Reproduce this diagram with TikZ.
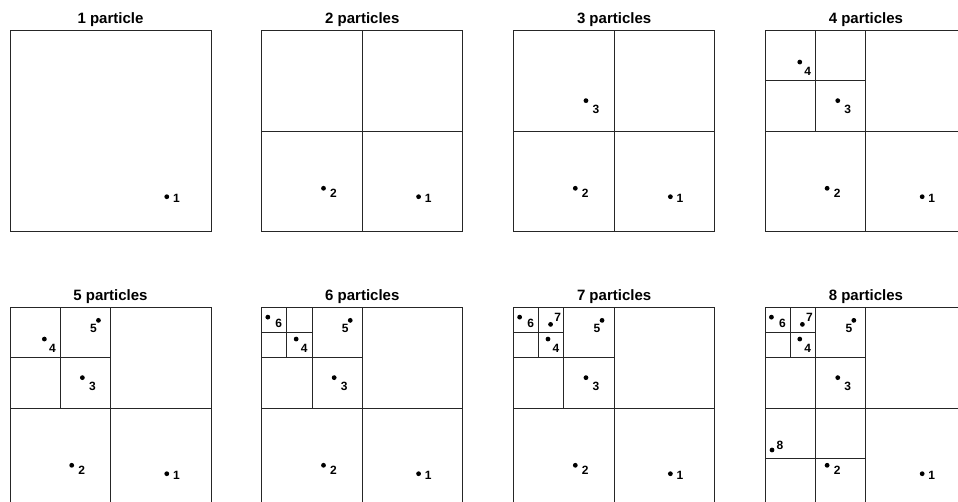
\documentclass[tikz,border=0pt]{standalone}
\usepackage{fontspec}
\setmainfont{Liberation Sans}
\tikzset{
  cell/.style={draw=black!85, line width=0.9pt},
  pdot/.style={circle, fill=black, inner sep=0pt, minimum size=4.8pt},
  num/.style={font=\fontsize{12}{12}\selectfont\bfseries, inner sep=0pt},
  ttl/.style={font=\fontsize{15}{15}\selectfont\bfseries, inner sep=0pt},
}
% dot: name, x, y, dx, dy, text
\newcommand\pdt[6]{\node[pdot] (#1) at (#2,#3) {}; \node[num] (#1l) at ([shift={(#4pt,#5pt)}]#1.center) {#6};}
\newcommand\Pone[1]{\pdt{#1a}{0.78}{0.174}{9.6}{-2}{1}}
\newcommand\Ptwo[1]{\pdt{#1b}{0.307}{0.216}{10}{-5}{2}}
\newcommand\Pthree[1]{\pdt{#1c}{0.36}{0.652}{10}{-9}{3}}
\newcommand\Pfour[1]{\pdt{#1d}{0.171}{0.844}{8}{-9}{4}}
\newcommand\Pfive[1]{\pdt{#1e}{0.44}{0.937}{-5}{-8}{5}}
\newcommand\Psix[1]{\pdt{#1f}{0.03}{0.953}{11}{-6}{6}}
\newcommand\Pseven[1]{\pdt{#1g}{0.184}{0.917}{7}{7}{7}}
\newcommand\Peight[1]{\pdt{#1h}{0.033}{0.292}{8}{5}{8}}
\newcommand\Lbox{\draw[cell] (0,0) rectangle (1,1);}
\newcommand\Lmid{\draw[cell] (0.5,0) -- (0.5,1) (0,0.5) -- (1,0.5);}
\newcommand\Lul{\draw[cell] (0.25,0.5) -- (0.25,1) (0,0.75) -- (0.5,0.75);}
\newcommand\Lulul{\draw[cell] (0.125,0.75) -- (0.125,1) (0,0.875) -- (0.25,0.875);}
\newcommand\Lll{\draw[cell] (0.25,0) -- (0.25,0.5) (0,0.25) -- (0.5,0.25);}
\newcommand\Ttl[2]{\node[ttl] (#1t) at ([yshift=10.7pt]0.5,1) {#2};}
\begin{document}
\begin{tikzpicture}
\useasboundingbox (0pt,0pt) rectangle (958pt,-502pt);
% row 1
\begin{scope}[shift={(10pt,-231.7pt)}, x=201pt, y=201pt]
  \Lbox \Ttl{A}{1 particle} \Pone{A}
\end{scope}
\begin{scope}[shift={(261.8pt,-231.7pt)}, x=201pt, y=201pt]
  \Lbox \Lmid \Ttl{B}{2 particles} \Pone{B} \Ptwo{B}
\end{scope}
\begin{scope}[shift={(513.6pt,-231.7pt)}, x=201pt, y=201pt]
  \Lbox \Lmid \Ttl{C}{3 particles} \Pone{C} \Ptwo{C} \Pthree{C}
\end{scope}
\begin{scope}[shift={(765.4pt,-231.7pt)}, x=201pt, y=201pt]
  \Lbox \Lmid \Lul \Ttl{D}{4 particles} \Pone{D} \Ptwo{D} \Pthree{D} \Pfour{D}
\end{scope}
% row 2
\begin{scope}[shift={(10pt,-508.7pt)}, x=201pt, y=201pt]
  \Lbox \Lmid \Lul \Ttl{E}{5 particles} \Pone{E} \Ptwo{E} \Pthree{E} \Pfour{E} \Pfive{E}
\end{scope}
\begin{scope}[shift={(261.8pt,-508.7pt)}, x=201pt, y=201pt]
  \Lbox \Lmid \Lul \Lulul \Ttl{F}{6 particles} \Pone{F} \Ptwo{F} \Pthree{F} \Pfour{F} \Pfive{F} \Psix{F}
\end{scope}
\begin{scope}[shift={(513.6pt,-508.7pt)}, x=201pt, y=201pt]
  \Lbox \Lmid \Lul \Lulul \Ttl{G}{7 particles} \Pone{G} \Ptwo{G} \Pthree{G} \Pfour{G} \Pfive{G} \Psix{G} \Pseven{G}
\end{scope}
\begin{scope}[shift={(765.4pt,-508.7pt)}, x=201pt, y=201pt]
  \Lbox \Lmid \Lul \Lulul \Lll \Ttl{H}{8 particles} \Pone{H} \Ptwo{H} \Pthree{H} \Pfour{H} \Pfive{H} \Psix{H} \Pseven{H} \Peight{H}
\end{scope}
\end{tikzpicture}
\end{document}
